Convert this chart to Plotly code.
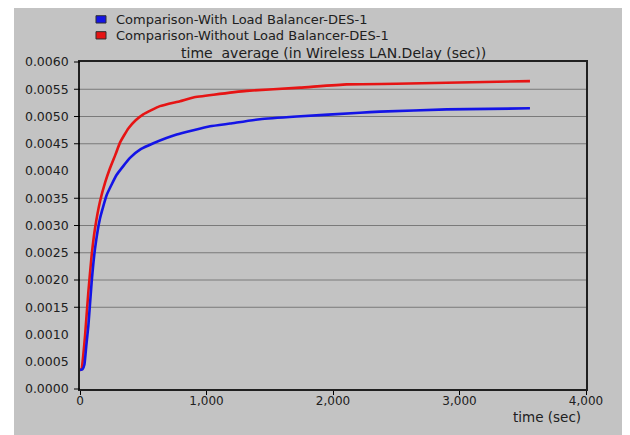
import plotly.graph_objects as go

# Data
t_with = [0, 20, 35, 50, 66, 92, 119, 158, 211, 290, 395, 480, 580, 764, 1028, 1186, 1423, 1713,
          2213, 2372, 2899, 3557]
d_with = [0.00035, 0.00036, 0.00045, 0.00080, 0.00116, 0.00196, 0.00258, 0.00313, 0.00356, 0.00393,
          0.00424, 0.00440, 0.00451, 0.00467, 0.00482, 0.00487, 0.00495, 0.00500, 0.00507, 0.00509,
          0.00513, 0.00515]

t_without = [0, 12, 25, 40, 66, 92, 119, 158, 200, 237, 280, 316, 350, 382, 440, 500, 632, 790, 896,
             1056, 1318, 1739, 2108, 2500, 2899, 3557]
d_without = [0.00035, 0.00036, 0.00060, 0.00098, 0.00178, 0.00245, 0.00295, 0.00344, 0.00380,
             0.00405, 0.00430, 0.00452, 0.00466, 0.00478, 0.00493, 0.00504, 0.00519, 0.00528,
             0.00535, 0.00540, 0.00547, 0.00553, 0.00559, 0.00560, 0.00562, 0.00565]

names = ["Comparison-With Load Balancer-DES-1", "Comparison-Without Load Balancer-DES-1"]
colors = ["#1414e6", "#e61414"]

y_labels = [i * 0.0005 for i in range(13)]
y_grid = [0.0015, 0.0020, 0.0025, 0.0030, 0.0035, 0.0045, 0.0050, 0.0055]
y_tickmarks = [0.0, 0.0015, 0.0020, 0.0025, 0.0030, 0.0035, 0.0045, 0.0050, 0.0055, 0.0060]
x_ticks = [0, 1000, 2000, 3000, 4000]

FONT = "DejaVu Sans"
TXT = "#202020"
Y_RANGE = [0, 0.006]

fig = go.Figure()
# red first so the blue line lies on top (as in the reference)
fig.add_trace(go.Scatter(x=t_without, y=d_without, mode="lines", name=names[1],
                         line=dict(color=colors[1], width=2.6, shape="spline", smoothing=0.4),
                         showlegend=False, hoverinfo="skip"))
fig.add_trace(go.Scatter(x=t_with, y=d_with, mode="lines", name=names[0],
                         line=dict(color=colors[0], width=2.6, shape="spline", smoothing=0.4),
                         showlegend=False, hoverinfo="skip"))

# legend drawn as boxes + text (positions in paper coordinates)
leg_rows = [(1.1415, 1.1192, 1.1305), (1.0927, 1.0704, 1.0817)]
shapes = [dict(type="rect", xref="paper", yref="paper", x0=-0.1304, x1=1.077, y0=-0.16, y1=1.2,
               fillcolor="#c3c3c3", line=dict(width=0), layer="below")]
annotations = []
for (ytop, ybot, ymid), nm, c in zip(leg_rows, names, colors):
    shapes.append(dict(type="rect", xref="paper", yref="paper", x0=0.0316, x1=0.0514, y0=ybot, y1=ytop,
                       fillcolor=c, line=dict(color="#303030", width=1)))
    annotations.append(dict(text=nm, xref="paper", yref="paper", x=0.0672, y=ymid, xanchor="left",
                            yanchor="middle", showarrow=False, font=dict(family=FONT, size=13, color=TXT)))

annotations += [
    dict(text="time  average (in Wireless LAN.Delay (sec))", xref="paper", yref="paper", x=0.5, y=1.0275,
         xanchor="center", yanchor="middle", showarrow=False, font=dict(family=FONT, size=14, color=TXT)),
    dict(text="time (sec)", xref="paper", yref="paper", x=0.994, y=-0.085,
         xanchor="right", yanchor="middle", showarrow=False, font=dict(family=FONT, size=13.5, color=TXT)),
]

# the page body has an 8px margin: size the figure so it fits the 630x435 window
fig.update_layout(
    width=622, height=427,
    margin=dict(l=72, r=44, t=54, b=46, autoexpand=False),
    paper_bgcolor="white",
    plot_bgcolor="#f0f0f0",
    font=dict(family=FONT, size=12, color=TXT),
    showlegend=False,
    annotations=annotations,
    yaxis=dict(range=Y_RANGE, tickvals=y_labels, tickformat=".4f", showgrid=False,
               zeroline=False, showline=True, linecolor="#202020", linewidth=1.6, mirror=True,
               automargin=False, ticks="", ticklabelstandoff=7, tickfont=dict(size=12.5, color=TXT)),
    xaxis=dict(range=[0, 4000], tickvals=x_ticks, tickformat=",", showgrid=False, zeroline=False,
               showline=True, linecolor="#202020", linewidth=1.6, mirror=True, automargin=False,
               ticks="outside", ticklen=4, tickcolor="black", ticklabelstandoff=-4,
               tickfont=dict(size=12, color=TXT)),
)
for s in shapes:
    fig.add_shape(**s)
# horizontal gridlines (only where the reference draws them)
for g in y_grid:
    fig.add_shape(type="line", xref="paper", yref="y", x0=0, x1=1, y0=g, y1=g,
                  line=dict(color="#7a7a7a", width=1), layer="below")
# outside tick marks on the value axis (paper coords so they are not clipped)
span = Y_RANGE[1] - Y_RANGE[0]
for tv in y_tickmarks:
    yp = (tv - Y_RANGE[0]) / span
    fig.add_shape(type="line", xref="paper", yref="paper", x0=-6 / 506, x1=0, y0=yp, y1=yp,
                  line=dict(color="black", width=1))

fig.write_html("out.html")
